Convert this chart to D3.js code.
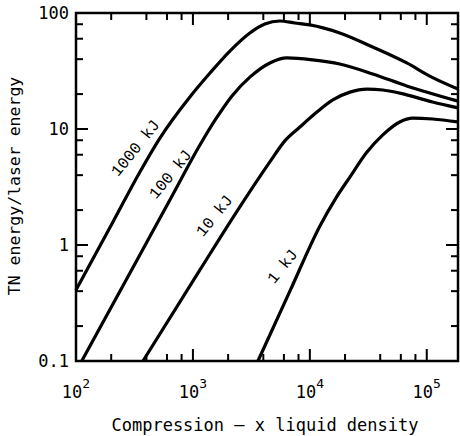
<!DOCTYPE html>
<html>
<head>
<meta charset="utf-8">
<script src="https://cdn.jsdelivr.net/npm/d3@7/dist/d3.min.js"></script>
<style>
body { margin: 0; background: #fff; }
</style>
</head>
<body>
<div id="chart"></div>
<script>
// curves: compression (x liquid density) vs TN energy / laser energy
const x1000 = [100, 207, 352, 522, 942, 1400, 2070, 3070, 4120, 5540, 7450, 10000, 18000, 34500, 67400, 106000, 185000];
const y1000 = [0.41, 1.58, 4.26, 8.35, 18.9, 30.4, 47, 67.3, 80.4, 85.3, 82, 78.9, 67.3, 50.9, 37.1, 28.6, 22.1];

const x100 = [112, 332, 635, 1148, 1570, 2150, 3070, 4550, 6360, 10600, 18000, 34500, 67400, 185000];
const y100 = [0.1, 0.74, 2.44, 7.28, 12.2, 19.2, 28, 37.1, 41, 39.4, 36.3, 29.8, 23.5, 17.4];

const x10 = [374, 1148, 2520, 4550, 6110, 8220, 11500, 15700, 22000, 30700, 42100, 58700, 112000, 185000];
const y10 = [0.1, 0.61, 2.13, 5.2, 7.9, 10.4, 14, 17.8, 20.8, 22.1, 21.7, 20.4, 17.1, 15.2];

const x1 = [3600, 6750, 12200, 16700, 22000, 30700, 42100, 58700, 75900, 112000, 185000];
const y1 = [0.1, 0.4, 1.46, 2.54, 3.85, 6.3, 8.9, 11.5, 12.4, 12.2, 11.5];

const curveNames = ["1000 kJ", "100 kJ", "10 kJ", "1 kJ"];
const labelX = [319, 635, 1510, 5770];
const labelY = [6.9, 4.1, 1.8, 0.66];

const yTickValues = [0.1, 1, 10, 100];
const yTickLabels = ["0.1", "1", "10", "100"];
const xTickValues = [1e2, 1e3, 1e4, 1e5];
const xTickExps = ["2", "3", "4", "5"];
const xMinorValues = [200, 400, 600, 800, 2000, 4000, 6000, 8000, 20000, 40000, 60000, 80000];
const yMinorValues = [0.2, 0.4, 0.6, 0.8, 2, 4, 6, 8, 20, 40, 60, 80];

window.onload = function () {
    const w = 460;
    const h = 436;
    const mLeft = 76, mRight = 458, mTop = 13, mBottom = 361;

    const xScale = d3.scaleLog()
        .domain([100, 185000])
        .range([mLeft, mRight]);

    const yScale = d3.scaleLog()
        .domain([0.1, 100])
        .range([mBottom, mTop]);

    const svg = d3.select("#chart")
        .append("svg")
        .attr("width", w)
        .attr("height", h)
        .style("font-family", "'DejaVu Sans Mono', monospace");

    // frame
    svg.append("rect")
        .attr("x", mLeft)
        .attr("y", mTop)
        .attr("width", mRight - mLeft)
        .attr("height", mBottom - mTop)
        .attr("fill", "none")
        .attr("stroke", "black")
        .attr("stroke-width", 2.5);

    // inward ticks as thin filled rects (major 12px, minor 7px)
    const tickG = svg.append("g");
    const xTickRects = xTickValues.map(v => [v, 12]).concat(xMinorValues.map(v => [v, 7]));
    const yTickRects = yTickValues.map(v => [v, 12]).concat(yMinorValues.map(v => [v, 7]));

    tickG.selectAll("rect.xb")
        .data(xTickRects)
        .enter()
        .append("rect")
        .attr("class", "xb")
        .attr("x", d => xScale(d[0]) - 1)
        .attr("y", d => mBottom - d[1])
        .attr("width", 2)
        .attr("height", d => d[1])
        .attr("fill", "black");

    tickG.selectAll("rect.xt")
        .data(xTickRects)
        .enter()
        .append("rect")
        .attr("class", "xt")
        .attr("x", d => xScale(d[0]) - 1)
        .attr("y", mTop)
        .attr("width", 2)
        .attr("height", d => d[1])
        .attr("fill", "black");

    tickG.selectAll("rect.yl")
        .data(yTickRects)
        .enter()
        .append("rect")
        .attr("class", "yl")
        .attr("x", mLeft)
        .attr("y", d => yScale(d[0]) - 1)
        .attr("width", d => d[1])
        .attr("height", 2)
        .attr("fill", "black");

    tickG.selectAll("rect.yr")
        .data(yTickRects)
        .enter()
        .append("rect")
        .attr("class", "yr")
        .attr("x", d => mRight - d[1])
        .attr("y", d => yScale(d[0]) - 1)
        .attr("width", d => d[1])
        .attr("height", 2)
        .attr("fill", "black");

    // curves
    const series = [[x1000, y1000], [x100, y100], [x10, y10], [x1, y1]];
    const line = d3.line()
        .x(d => xScale(d[0]))
        .y(d => yScale(d[1]))
        .curve(d3.curveMonotoneX);

    svg.selectAll("path.curve")
        .data(series)
        .enter()
        .append("path")
        .attr("class", "curve")
        .attr("d", s => line(s[0].map((x, i) => [x, s[1][i]])))
        .attr("fill", "none")
        .attr("stroke", "black")
        .attr("stroke-width", 3.2)
        .attr("stroke-linejoin", "round");

    // curve labels
    svg.selectAll("text.lbl")
        .data(curveNames)
        .enter()
        .append("text")
        .attr("class", "lbl")
        .text(d => d)
        .attr("transform", (d, i) => "translate(" + xScale(labelX[i]) + "," + yScale(labelY[i]) + ") rotate(-51)")
        .attr("text-anchor", "middle")
        .attr("dy", "0.35em")
        .attr("font-family", "'Liberation Mono', monospace")
        .attr("font-size", "16px")
        .attr("fill", "black");

    // y tick labels
    svg.selectAll("text.ytl")
        .data(yTickValues)
        .enter()
        .append("text")
        .attr("class", "ytl")
        .text((d, i) => yTickLabels[i])
        .attr("x", 69)
        .attr("y", d => yScale(d))
        .attr("dy", "0.35em")
        .attr("text-anchor", "end")
        .attr("font-size", "17px")
        .attr("fill", "black");

    // x tick labels, 10 with superscript exponent
    const xt = svg.selectAll("text.xtl")
        .data(xTickValues)
        .enter()
        .append("text")
        .attr("class", "xtl")
        .attr("x", d => xScale(d))
        .attr("y", 398)
        .attr("text-anchor", "middle")
        .attr("font-size", "17px")
        .attr("fill", "black");
    xt.append("tspan").text("10");
    xt.append("tspan")
        .text((d, i) => xTickExps[i])
        .attr("dy", -10)
        .attr("font-size", "13px");

    // axis titles
    svg.append("text")
        .text("Compression \u2014 x liquid density")
        .attr("x", 265)
        .attr("y", 431)
        .attr("text-anchor", "middle")
        .attr("font-size", "17px")
        .attr("fill", "black");

    svg.append("text")
        .text("TN energy/laser energy")
        .attr("transform", "translate(20,186) rotate(-90)")
        .attr("text-anchor", "middle")
        .attr("font-size", "16.5px")
        .attr("fill", "black");
};
</script>
</body>
</html>
